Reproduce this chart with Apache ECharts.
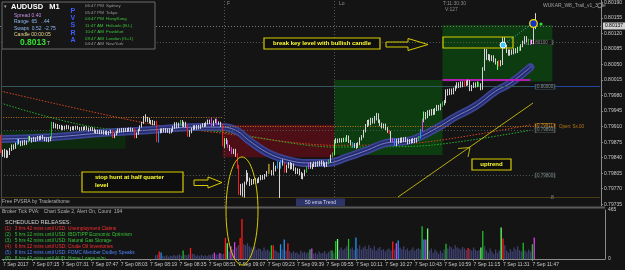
<!DOCTYPE html>
<html><head><meta charset="utf-8">
<script src="https://cdn.jsdelivr.net/npm/echarts@6/dist/echarts.min.js"></script>
<style>html,body{margin:0;padding:0;background:#141414;}#c{width:625px;height:270px;}</style>
</head><body><div id="c"></div>
<script>
// ---------- DATA (prices in points, 1 point = 0.00001) ----------
const startHour = 6, startMin = 59, slotCount = 328;
const tickLabels = ["7 Sep 2017","7 Sep 07:15","7 Sep 07:31","7 Sep 07:47","7 Sep 08:03","7 Sep 08:19","7 Sep 08:35","7 Sep 08:51","7 Sep 09:07","7 Sep 09:23","7 Sep 09:39","7 Sep 09:55","7 Sep 10:11","7 Sep 10:27","7 Sep 10:43","7 Sep 10:59","7 Sep 11:15","7 Sep 11:31","7 Sep 11:47"];
const priceTicks = [79735,79770,79805,79840,79875,79910,79945,79980,80015,80050,80085,80120,80155,80190];
const volumeTicks = [0,465];
// [open, close, low, high]
const candles = [
[79887,79853,79850,79892],[79853,79848,79842,79858],[79848,79855,79840,79860],[79855,79845,79839,79858],[79845,79850,79840,79856],
[79850,79858,79846,79862],[79858,79866,79855,79870],[79866,79862,79858,79870],[79862,79870,79860,79874],[79870,79880,79868,79883],
[79880,79874,79870,79882],[79874,79870,79866,79878],[79870,79876,79867,79879],[79876,79872,79868,79880],[79872,79876,79869,79879],
[79876,79886,79874,79889],[79886,79882,79878,79889],[79882,79878,79874,79885],[79878,79884,79876,79887],[79884,79880,79876,79886],
[79880,79886,79878,79889],[79886,79882,79879,79889],[79882,79887,79880,79890],[79887,79884,79881,79891],[79884,79880,79877,79887],
[79880,79883,79876,79886],[79883,79879,79875,79886],[79879,79885,79877,79888],[79885,79916,79883,79921],[79916,79910,79906,79920],
[79910,79913,79906,79917],[79913,79908,79904,79916],[79908,79911,79905,79914],[79911,79905,79902,79914],[79905,79909,79902,79912],
[79909,79906,79903,79912],[79906,79910,79904,79914],[79910,79907,79904,79913],[79907,79904,79900,79910],[79904,79908,79902,79911],
[79908,79905,79902,79911],[79905,79909,79903,79912],[79909,79906,79903,79912],[79906,79903,79900,79909],[79903,79907,79901,79910],
[79907,79904,79901,79910],[79904,79908,79902,79911],[79908,79905,79902,79911],[79905,79902,79899,79908],[79902,79906,79900,79909],
[79906,79903,79900,79909],[79903,79900,79896,79906],[79900,79897,79894,79903],[79897,79900,79894,79903],[79900,79896,79893,79903],
[79896,79899,79893,79902],[79899,79895,79892,79902],[79895,79898,79892,79901],[79898,79894,79891,79901],[79894,79897,79891,79900],
[79897,79899,79894,79903],[79899,79886,79884,79902],[79886,79892,79884,79895],[79892,79898,79890,79901],[79898,79903,79895,79906],
[79903,79899,79896,79906],[79899,79904,79897,79907],[79904,79900,79897,79907],[79900,79904,79898,79907],[79904,79901,79898,79907],
[79901,79905,79899,79908],[79905,79902,79899,79908],[79902,79904,79899,79907],[79904,79886,79884,79906],[79886,79894,79884,79897],
[79894,79902,79892,79905],[79902,79910,79900,79913],[79910,79918,79908,79921],[79918,79930,79916,79934],[79930,79925,79921,79938],
[79925,79928,79920,79932],[79928,79920,79917,79930],[79920,79922,79915,79925],[79922,79916,79913,79925],[79916,79920,79913,79923],
[79920,79878,79875,79923],[79878,79898,79874,79900],[79898,79903,79895,79906],[79903,79900,79896,79906],[79900,79904,79897,79907],
[79904,79899,79896,79907],[79899,79903,79896,79906],[79903,79898,79894,79906],[79898,79902,79895,79905],[79902,79908,79899,79912],
[79908,79916,79905,79920],[79916,79910,79906,79920],[79910,79915,79907,79919],[79915,79922,79912,79925],[79922,79914,79910,79925],
[79914,79918,79909,79921],[79918,79912,79908,79921],[79912,79890,79887,79915],[79890,79898,79887,79902],[79898,79905,79895,79908],
[79905,79910,79902,79913],[79910,79906,79903,79913],[79906,79911,79903,79914],[79911,79908,79904,79914],[79908,79912,79905,79915],
[79912,79915,79909,79918],[79915,79912,79909,79918],[79912,79918,79910,79921],[79918,79923,79915,79926],[79923,79919,79916,79926],
[79919,79913,79910,79930],[79913,79920,79911,79924],[79920,79925,79918,79928],[79925,79917,79914,79928],[79917,79918,79914,79922],
[79918,79913,79909,79921],[79913,79870,79866,79916],[79870,79880,79862,79884],[79880,79876,79870,79884],[79876,79866,79862,79880],
[79866,79860,79855,79869],[79860,79852,79848,79864],[79852,79856,79848,79860],[79856,79846,79842,79860],[79846,79820,79815,79850],
[79820,79763,79756,79824],[79763,79778,79755,79781],[79778,79760,79752,79782],[79760,79783,79750,79786],[79783,79800,79779,79812],
[79800,79790,79786,79806],[79790,79782,79776,79795],[79782,79789,79778,79792],[79789,79784,79780,79792],[79784,79790,79781,79794],
[79790,79786,79782,79793],[79786,79792,79783,79796],[79792,79798,79789,79801],[79798,79794,79790,79801],[79794,79800,79791,79803],
[79800,79806,79797,79810],[79806,79822,79803,79826],[79822,79808,79804,79826],[79808,79804,79800,79812],[79804,79812,79800,79830],
[79812,79818,79809,79822],[79818,79828,79815,79832],[79828,79820,79749,79830],[79820,79832,79815,79835],[79832,79826,79822,79836],
[79826,79810,79806,79830],[79810,79820,79806,79824],[79820,79826,79816,79830],[79826,79818,79813,79830],[79818,79824,79814,79828],
[79824,79815,79810,79827],[79815,79808,79803,79818],[79808,79812,79803,79816],[79812,79804,79800,79815],[79804,79796,79792,79808],
[79796,79802,79791,79805],[79802,79810,79798,79813],[79810,79818,79806,79821],[79818,79826,79814,79829],[79826,79818,79815,79830],
[79818,79822,79814,79826],[79822,79828,79819,79831],[79828,79823,79819,79831],[79823,79829,79820,79832],[79829,79825,79821,79833],
[79825,79830,79822,79834],[79830,79826,79821,79833],[79826,79822,79818,79829],[79822,79828,79819,79831],[79828,79832,79825,79836],
[79832,79844,79829,79847],[79844,79848,79840,79852],[79848,79876,79845,79880],[79876,79880,79872,79884],[79880,79877,79873,79883],
[79877,79881,79874,79884],[79881,79878,79874,79884],[79878,79882,79875,79885],[79882,79878,79875,79886],[79878,79888,79876,79891],
[79888,79877,79873,79890],[79877,79872,79868,79880],[79872,79866,79862,79875],[79866,79870,79862,79873],[79870,79864,79860,79873],
[79864,79872,79862,79875],[79872,79882,79869,79886],[79882,79888,79879,79891],[79888,79900,79885,79903],[79900,79912,79897,79916],
[79912,79922,79909,79925],[79922,79916,79912,79926],[79916,79926,79913,79930],[79926,79920,79917,79930],[79920,79928,79917,79934],
[79928,79934,79924,79941],[79934,79922,79918,79940],[79922,79915,79911,79926],[79915,79910,79906,79919],[79910,79914,79906,79917],
[79914,79906,79902,79917],[79906,79900,79896,79909],[79900,79896,79893,79903],[79896,79878,79875,79900],[79878,79880,79874,79884],
[79880,79870,79866,79884],[79870,79880,79866,79883],[79880,79876,79871,79884],[79876,79882,79873,79885],[79882,79878,79874,79886],
[79878,79883,79875,79886],[79883,79879,79875,79887],[79879,79874,79870,79883],[79874,79879,79871,79882],[79879,79876,79872,79883],
[79876,79881,79873,79884],[79881,79877,79873,79885],[79877,79882,79874,79885],[79882,79886,79878,79889],[79886,79902,79883,79905],
[79902,79924,79899,79928],[79924,79940,79920,79944],[79940,79932,79926,79943],[79932,79944,79929,79947],[79944,79938,79934,79948],
[79938,79946,79935,79950],[79946,79940,79936,79950],[79940,79948,79937,79952],[79948,79955,79945,79959],[79955,79950,79946,79959],
[79950,79958,79947,79962],[79958,79963,79955,79967],[79963,79966,79958,79970],[79966,79990,79963,79994],[79990,79984,79980,79995],
[79984,79992,79981,79996],[79992,79986,79982,79996],[79986,79994,79983,79998],[79994,79999,79990,80003],[79999,80006,79996,80010],
[80006,80001,79997,80010],[80001,80008,79998,80012],[80008,80003,79999,80012],[80003,80010,80000,80014],[80010,80006,80002,80014],
[80006,80012,80003,80016],[80012,79994,79990,80015],[79994,80000,79990,80004],[80000,80006,79997,80010],[80006,80002,79998,80010],
[80002,80008,79999,80012],[80008,80004,80000,80011],[80004,79996,79992,80008],[79996,80040,79993,80044],[80040,80082,80036,80086],
[80082,80065,80060,80085],[80065,80070,80060,80074],[80070,80062,80057,80073],[80062,80068,80058,80071],[80068,80060,80055,80071],
[80060,80055,80050,80064],[80055,80050,80038,80058],[80050,80056,80046,80060],[80056,80052,80046,80060],[80052,80108,80049,80112],
[80108,80090,80086,80112],[80090,80080,80076,80094],[80080,80074,80070,80084],[80074,80080,80070,80084],[80080,80076,80072,80084],
[80076,80083,80073,80087],[80083,80079,80075,80087],[80079,80087,80076,80090],[80087,80084,80080,80091],[80084,80092,80081,80096],
[80092,80100,80089,80104],[80100,80110,80096,80114],[80110,80104,80100,80114],[80104,80098,80094,80108],[80098,80103,80094,80107],
[80103,80099,80096,80106],[80099,80135,80096,80139],[80135,80137,80130,80166]
];
const volStart = 83;
const volumes = [
35,40,70,62,30,25,35,22,30,28,38,30,35,45,32,80,40,35,45,105,50,45,30,35,25,40,30,35,28,40,
35,45,60,40,45,58,45,50,200,150,70,120,90,160,110,130,200,380,
140,130,150,120,110,95,120,85,100,95,75,110,80,90,70,130,130,85,70,60,
140,90,185,80,150,70,55,75,60,65,45,80,60,70,55,65,90,100,50,60,
45,70,55,60,75,50,65,80,80,60,170,190,90,110,85,100,120,190,95,110,
85,205,100,130,90,110,120,95,130,105,90,120,80,100,115,85,95,70,90,100,
80,165,90,150,175,110,95,120,85,100,75,90,110,80,95,105,90,310,185,185,
290,80,100,60,90,70,50,80,60,90,145,100,120,110,95,130,110,100,90,115,
100,85,105,95,80,110,90,75,85,110,265,120,80,60,100,70,50,90,60,80,
300,195,130,80,60,95,70,110,90,120,85,70,155,80,65,90,70,140,205
];
const pvsraRed = [0,61,73,85,102,121,129,130,147,155,212,253,272];
const pvsraGreen = [15,28,98,146,167,179,181,188,228,241,261,283,288];
const pvsraLime = [122,182,231,260,271];
const pvsraBlue = [9,86,151,153,192,215,229];
const pvsraMagenta = [115,118,124,126,168,214,230,289];
const emaIdx = [0,27,53,80,108,121,129,135,146,156,167,178,189,200,210,221,227,238,248,259,270,278,289];
const emaVal = [79882,79886,79895,79902,79909,79909,79900,79880,79850,79835,79828,79828,79841,79857,79873,79877,79884,79907,79932,79956,79990,80008,80044];
const maRedIdx = [0,79,121,182,227,289];
const maRedVal = [79990,79918,79895,79868,79873,79914];
const maGreenIdx = [0,59,108,121,182,227,289];
const maGreenVal = [79963,79905,79902,79898,79864,79866,79902];
const bidPrice = 80137;

// ---------- BUILD ----------
const categories = [];
for (let k = 0; k < slotCount; k++) {
  const t = startHour * 60 + startMin + k;
  categories.push(String(Math.floor(t / 60)).padStart(2, '0') + ':' + String(t % 60).padStart(2, '0'));
}
const colorOf = {};
pvsraRed.forEach(i => colorOf[i] = '#ff1a1a');
pvsraGreen.forEach(i => colorOf[i] = '#1fbf2a');
pvsraLime.forEach(i => colorOf[i] = '#6dff6d');
pvsraBlue.forEach(i => colorOf[i] = '#2196f3');
pvsraMagenta.forEach(i => colorOf[i] = '#d63ee8');
const candleData = candles.map((r, i) => {
  const c = colorOf[i];
  if (!c) return { value: r, itemStyle: { color: '#d4d4d4', color0: '#8e8e8e', borderColor: '#d4d4d4', borderColor0: '#8e8e8e' } };
  return { value: r, itemStyle: { color: c, color0: c, borderColor: c, borderColor0: c } };
});
const volData = [];
for (let i = 0; i < candles.length; i++) {
  const v = i >= volStart ? volumes[i - volStart] : null;
  volData.push(v == null ? null : { value: v, itemStyle: { color: colorOf[i] || '#3e4170' } });
}
function sparse(idx, val) { const a = new Array(candles.length).fill(null); idx.forEach((k, j) => a[k] = val[j]); return a; }
const emaData = sparse(emaIdx, emaVal);
const maRed = sparse(maRedIdx, maRedVal);
const maGreen = sparse(maGreenIdx, maGreenVal);
const fmt = v => (v / 100000).toFixed(5);
const FONT = 'Liberation Sans, Arial, sans-serif';
const tickShow = i => i % 16 === 0 && i / 16 < tickLabels.length;

function hseg(i0, i1, p, color, type, width) {
  return [{ coord: [i0, p], lineStyle: { color, type, width: width || 1 } }, { coord: [i1, p] }];
}
function box(i, p, text, w, border, tc) {
  return { coord: [i, p], symbol: 'rect', symbolSize: [w, 5],
    itemStyle: { color: '#161616', borderColor: border, borderWidth: 0.8 },
    label: { show: true, position: 'inside', formatter: text, fontSize: 4.5, color: tc, fontFamily: FONT } };
}

const chart = echarts.init(document.getElementById('c'), null, { renderer: 'canvas' });
const option = {
  backgroundColor: '#141414',
  animation: false,
  grid: [
    { left: 0, top: 0, width: 605, height: 206 },
    { left: 0, top: 210, width: 605, height: 49 }
  ],
  xAxis: [
    { type: 'category', gridIndex: 0, data: categories, boundaryGap: true,
      axisLine: { show: false }, axisTick: { show: false }, axisLabel: { show: false }, splitLine: { show: false } },
    { type: 'category', gridIndex: 1, data: categories, boundaryGap: true,
      axisLine: { show: true, lineStyle: { color: '#8a8a8a', width: 1 } },
      axisTick: { show: true, interval: i => tickShow(i), alignWithLabel: true, length: 2, lineStyle: { color: '#8a8a8a' } },
      axisLabel: { show: true, interval: i => tickShow(i), formatter: (v, i) => tickLabels[i / 16] || '',
        color: '#c8c8c8', fontSize: 5, fontFamily: FONT, align: 'left', margin: 3 } }
  ],
  yAxis: [
    { type: 'value', gridIndex: 0, position: 'right', min: 79731, max: 80195,
      axisLine: { show: true, lineStyle: { color: '#8a8a8a' } },
      axisTick: { show: true, length: 2, customValues: priceTicks, lineStyle: { color: '#8a8a8a' } },
      axisLabel: { show: true, customValues: priceTicks, formatter: fmt, color: '#c8c8c8', fontSize: 5, fontFamily: FONT, margin: 3 },
      splitLine: { show: false } },
    { type: 'value', gridIndex: 1, position: 'right', min: 0, max: 465,
      axisLine: { show: true, lineStyle: { color: '#8a8a8a' } },
      axisTick: { show: false, customValues: volumeTicks },
      axisLabel: { show: true, customValues: volumeTicks, color: '#c8c8c8', fontSize: 5, fontFamily: FONT, margin: 3 },
      splitLine: { show: false } }
  ],
  series: [
    { name: 'levels', type: 'line', xAxisIndex: 0, yAxisIndex: 0, data: [], silent: true, z: 1,
      markArea: { silent: true, data: [
        [{ coord: [0, 79900], itemStyle: { color: '#0d2a0f' } }, { coord: [68, 79860] }],
        [{ coord: [121, 79914], itemStyle: { color: '#4e0e16' } }, { coord: [182, 79841] }],
        [{ coord: [182, 80015], itemStyle: { color: '#0c3c10' } }, { coord: [241, 79846] }],
        [{ coord: [241, 80139], itemStyle: { color: '#0c3c10' } }, { coord: [301, 80012] }]
      ] },
      markLine: { silent: true, symbol: 'none', label: { show: false }, data: [
        hseg(0, 327, 80100, '#4f5f52', [1, 2]),
        hseg(0, 327, 80000, '#34565e', 'solid', 1.2),
        hseg(289, 327, 80000, '#2646a0', 'solid', 1.2),
        hseg(0, 121, 79932, '#b8701a', [1, 1.5]),
        hseg(121, 292, 79911, '#c0781c', [1, 1.5]),
        hseg(0, 292, 79902, '#4e5a5a', [1, 2]),
        hseg(0, 292, 79800, '#4e5a5a', [1, 2]),
        hseg(0, 327, 79750, '#4a3c12', 'solid', 1),
        hseg(241, 289, 80015, '#b21cb2', 'solid', 2),
        { xAxis: 122, lineStyle: { color: '#555', type: [1, 2], width: 1 } },
        { xAxis: 182, lineStyle: { color: '#555', type: [1, 2], width: 1 } }
      ] },
      markPoint: { silent: true, data: [
        box(294, 80100, '0.80100', 26, '#4a5a4a', '#7f8f7f'),
        box(297, 80000, '0.80000', 19, '#3a5560', '#7f8f90'),
        box(297, 79911, '0.79911', 19, '#c0781c', '#d0902c'),
        box(297, 79902, '0.79893', 19, '#4e5a5a', '#7f8f90'),
        box(297, 79800, '0.79800', 19, '#4e5a5a', '#7f8f90')
      ] } },
    { name: 'MA red', type: 'line', data: maRed, connectNulls: true, smooth: 0.3, showSymbol: false, silent: true, z: 2,
      lineStyle: { color: '#d2461e', width: 1, type: [1.5, 1.5] } },
    { name: 'MA green', type: 'line', data: maGreen, connectNulls: true, smooth: 0.3, showSymbol: false, silent: true, z: 2,
      lineStyle: { color: '#27b02a', width: 1, type: [1.5, 1.5] } },
    { name: 'EMA band', type: 'line', data: emaData, connectNulls: true, smooth: 0.4, showSymbol: false, silent: true, z: 3,
      lineStyle: { color: '#3c4494', width: 8, cap: 'round' } },
    { name: 'EMA core', type: 'line', data: emaData, connectNulls: true, smooth: 0.4, showSymbol: false, silent: true, z: 3,
      lineStyle: { color: '#262c70', width: 4.5 } },
    { name: 'EMA line', type: 'line', data: emaData, connectNulls: true, smooth: 0.4, showSymbol: false, silent: true, z: 3,
      lineStyle: { color: '#8e96dc', width: 0.8 } },
    { name: 'AUDUSD', type: 'candlestick', xAxisIndex: 0, yAxisIndex: 0, data: candleData, barWidth: 1.2, z: 5,
      markLine: { silent: true, symbol: 'none', data: [
        { yAxis: bidPrice, lineStyle: { color: '#777', type: [1, 2], width: 1 },
          label: { show: true, position: 'end', formatter: fmt(bidPrice), backgroundColor: '#cfcfcf', color: '#000', fontSize: 5, fontFamily: FONT, padding: [1, 2], distance: 2 } }
      ] } },
    { name: 'Volume', type: 'bar', xAxisIndex: 1, yAxisIndex: 1, data: volData, barWidth: 1.3, z: 2 }
  ],
  graphic: [
    { type: 'line', shape: { x1: 0, y1: 207.5, x2: 605, y2: 207.5 }, style: { stroke: '#5a5a5a', lineWidth: 2 }, z: 10 },
    { type: 'line', shape: { x1: 1.5, y1: 49, x2: 1.5, y2: 206 }, style: { stroke: '#4a4a4a', lineWidth: 1 }, z: 10 },
    { type: 'rect', shape: { x: 2, y: 2, width: 153, height: 47 }, style: { fill: '#161616', stroke: '#6a6a6a', lineWidth: 1 }, z: 20 },
    { type: 'text', x: 4, y: 4, style: { text: '▾', fill: '#aaa', font: '5px ' + FONT }, z: 21 },
    { type: 'text', x: 11, y: 3, style: { text: 'AUDUSD   M1', fill: '#ffffff', font: 'bold 7.5px ' + FONT }, z: 21 },
    { type: 'text', x: 14, y: 13, style: { text: 'Spread 0.40', fill: '#c58ce0', font: '5px ' + FONT }, z: 21 },
    { type: 'text', x: 14, y: 19.5, style: { text: 'Range  65   ..44', fill: '#8fb8f0', font: '5px ' + FONT }, z: 21 },
    { type: 'text', x: 14, y: 26, style: { text: 'Swaps  0.52  -2.75', fill: '#8fb8f0', font: '5px ' + FONT }, z: 21 },
    { type: 'text', x: 14, y: 32, style: { text: 'Candle 00:00:05', fill: '#e6d890', font: '5px ' + FONT }, z: 21 },
    { type: 'text', x: 20, y: 38.5, style: { text: '0.8013', fill: '#33e033', font: 'bold 8.5px ' + FONT }, z: 21 },
    { type: 'text', x: 47, y: 41, style: { text: '7', fill: '#dddddd', font: '5px ' + FONT }, z: 21 },
    { type: 'text', x: 70.5, y: 7, style: { text: 'P\nV\nS\nR\nA', fill: '#3c5cff', font: 'bold 7px ' + FONT, lineHeight: 7.4 }, z: 21 },
    { type: 'text', x: 85, y: 3, style: { text: '06:47 PM\n05:47 PM', fill: '#9a9a9a', font: '4.4px ' + FONT, lineHeight: 6.5 }, z: 21 },
    { type: 'text', x: 85, y: 16, style: { text: '04:47 PM\n11:47 AM\n10:47 AM\n09:47 AM', fill: '#3cc43c', font: '4.4px ' + FONT, lineHeight: 6.5 }, z: 21 },
    { type: 'text', x: 85, y: 42, style: { text: '04:47 AM', fill: '#9a9a9a', font: '4.4px ' + FONT }, z: 21 },
    { type: 'text', x: 106, y: 3, style: { text: 'Sydney\nTokyo', fill: '#9a9a9a', font: '4.4px ' + FONT, lineHeight: 6.5 }, z: 21 },
    { type: 'text', x: 106, y: 16, style: { text: 'HongKong\nHelsinki (B.L)\nFrankfurt\nLondon (G+1)', fill: '#3cc43c', font: '4.4px ' + FONT, lineHeight: 6.5 }, z: 21 },
    { type: 'text', x: 106, y: 42, style: { text: 'NewYork', fill: '#9a9a9a', font: '4.4px ' + FONT }, z: 21 },
    { type: 'text', x: 227, y: 1, style: { text: 'F', fill: '#8a8a8a', font: '5px ' + FONT }, z: 21 },
    { type: 'text', x: 339, y: 1, style: { text: 'Lo', fill: '#8a8a8a', font: '5px ' + FONT }, z: 21 },
    { type: 'text', x: 443, y: 1, style: { text: 'T:11:30:30', fill: '#8a8a8a', font: '5px ' + FONT }, z: 21 },
    { type: 'text', x: 445, y: 7, style: { text: 'V:127', fill: '#8a8a8a', font: '5px ' + FONT }, z: 21 },
    { type: 'text', x: 543, y: 3, style: { text: 'WUKAR_W8_Trail_v1_3_Je', fill: '#a0a0a0', font: '5px ' + FONT }, z: 21 },
    { type: 'circle', shape: { cx: 600, cy: 5.5, r: 2.3 }, style: { fill: 'none', stroke: '#a0a0a0', lineWidth: 0.7 }, z: 21 },
    { type: 'text', x: 559, y: 124, style: { text: 'Open: Sx.00', fill: '#c0781c', font: '4.5px ' + FONT }, z: 21 },
    { type: 'rect', shape: { x: 264, y: 38, width: 116, height: 11 }, style: { fill: '#0e0e0e', stroke: '#d8cc00', lineWidth: 1.2 }, z: 21 },
    { type: 'text', x: 322, y: 43.5, style: { text: 'break key level with bullish candle', fill: '#ffff30', font: 'bold 6px ' + FONT, align: 'center', verticalAlign: 'middle' }, z: 22 },
    { type: 'polygon', shape: { points: [[386, 42], [408, 42], [408, 38.5], [428, 44.5], [408, 50.5], [408, 47], [386, 47]] }, style: { fill: 'none', stroke: '#d8cc00', lineWidth: 1 }, z: 21 },
    { type: 'rect', shape: { x: 443, y: 37, width: 70, height: 11 }, style: { fill: 'none', stroke: '#d8cc00', lineWidth: 1.2 }, z: 21 },
    { type: 'line', shape: { x1: 503, y1: 45, x2: 533, y2: 23 }, style: { stroke: '#3cc8c8', lineWidth: 0.8, lineDash: [1, 1.5] }, z: 21 },
    { type: 'circle', shape: { cx: 503, cy: 45, r: 3 }, style: { fill: '#40c8ff', stroke: '#ffffff', lineWidth: 1 }, z: 22 },
    { type: 'circle', shape: { cx: 533.5, cy: 23.5, r: 3.8 }, style: { fill: '#1430c8', stroke: '#f0e000', lineWidth: 1.3 }, z: 22 },
    { type: 'circle', shape: { cx: 541, cy: 24, r: 1.6 }, style: { fill: '#30e030' }, z: 22 },
    { type: 'rect', shape: { x: 82, y: 172, width: 101, height: 20 }, style: { fill: '#0e0e0e', stroke: '#d8cc00', lineWidth: 1.2 }, z: 21 },
    { type: 'text', x: 95, y: 174, style: { text: 'stop hunt at half quarter\nlevel', fill: '#ffff30', font: 'bold 6px ' + FONT, lineHeight: 7.5 }, z: 22 },
    { type: 'polygon', shape: { points: [[194, 180], [208, 180], [208, 177], [222, 182.5], [208, 188], [208, 185.5], [194, 185.5]] }, style: { fill: 'none', stroke: '#d8cc00', lineWidth: 1 }, z: 21 },
    { type: 'ellipse', shape: { cx: 242, cy: 211, rx: 16, ry: 54 }, style: { fill: 'none', stroke: '#d8cc00', lineWidth: 1 }, z: 21 },
    { type: 'line', shape: { x1: 398, y1: 197, x2: 533, y2: 103 }, style: { stroke: '#c8bc10', lineWidth: 0.9 }, z: 21 },
    { type: 'polyline', shape: { points: [[458, 148.5], [470, 147.5], [468, 157]] }, style: { stroke: '#c8bc10', lineWidth: 0.9, fill: 'none' }, z: 21 },
    { type: 'rect', shape: { x: 472, y: 159, width: 39, height: 11 }, style: { fill: '#0e0e0e', stroke: '#d8cc00', lineWidth: 1.2 }, z: 21 },
    { type: 'text', x: 491.5, y: 164.5, style: { text: 'uptrend', fill: '#ffff30', font: 'bold 6px ' + FONT, align: 'center', verticalAlign: 'middle' }, z: 22 },
    { type: 'rect', shape: { x: 296, y: 198.5, width: 49, height: 7.5 }, style: { fill: '#2c3468' }, z: 21 },
    { type: 'text', x: 320.5, y: 202.3, style: { text: '50 ema Trend', fill: '#d0d4f0', font: '5px ' + FONT, align: 'center', verticalAlign: 'middle' }, z: 22 },
    { type: 'text', x: 2, y: 199.5, style: { text: 'Free PVSRA by Traderathome', fill: '#b0b0b0', font: '5px ' + FONT }, z: 21 },
    { type: 'text', x: 2, y: 209, style: { text: 'Broker Tick PVA:   Chart Scale 2, Alert On, Count  194', fill: '#b0b0b0', font: '5px ' + FONT }, z: 21 },
    { type: 'text', x: 5, y: 219, style: { text: 'SCHEDULED RELEASES:', fill: '#d0d0d0', font: '5.5px ' + FONT }, z: 21 },
    { type: 'text', x: 5, y: 226, style: { text: '(1)   3 hrs 42 mins until USD: Unemployment Claims', fill: '#ff3030', font: '4.8px ' + FONT }, z: 21 },
    { type: 'text', x: 5, y: 232, style: { text: '(2)   5 hrs 12 mins until USD: IBD/TIPP Economic Optimism', fill: '#38c038', font: '4.8px ' + FONT }, z: 21 },
    { type: 'text', x: 5, y: 238, style: { text: '(3)   5 hrs 42 mins until USD: Natural Gas Storage', fill: '#38c038', font: '4.8px ' + FONT }, z: 21 },
    { type: 'text', x: 5, y: 244, style: { text: '(4)   6 hrs 12 mins until USD: Crude Oil Inventories', fill: '#ff3030', font: '4.8px ' + FONT }, z: 21 },
    { type: 'text', x: 5, y: 250, style: { text: '(5)   8 hrs 12 mins until USD: FOMC Member Dudley Speaks', fill: '#4a86ff', font: '4.8px ' + FONT }, z: 21 },
    { type: 'text', x: 5, y: 256, style: { text: '(6)   8 hrs 42 mins until AUD: Home Loans m/m', fill: '#38c038', font: '4.8px ' + FONT }, z: 21 },
    { type: 'text', x: 551, y: 195, style: { text: '8', fill: '#8a8a8a', font: '5px ' + FONT }, z: 21 }
  ]
};
chart.setOption(option);
</script>
</body></html>
